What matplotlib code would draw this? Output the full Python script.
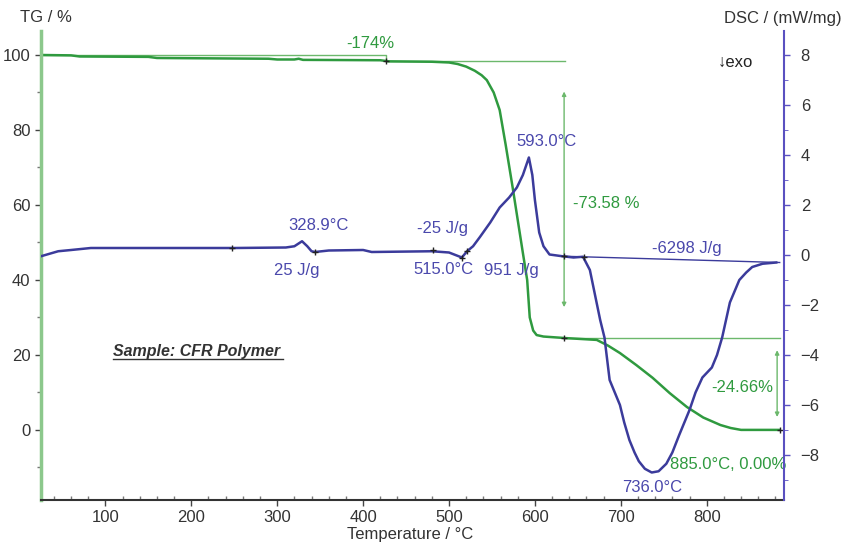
import matplotlib
matplotlib.use("Agg")
import matplotlib.pyplot as plt
from matplotlib.ticker import MultipleLocator

plt.rcParams["font.family"] = ["Liberation Sans", "DejaVu Sans"]

# TG curve (temperature in C, mass in %)
tg_temp = [25, 60, 70, 150, 160, 290, 300, 320, 325, 330, 420, 430, 480, 500,
           510, 520, 530, 538, 544, 552, 559, 566, 574, 580, 586, 591, 594,
           598, 602, 610, 635, 672, 685, 699, 718, 737, 757, 777, 796, 816,
           828, 840, 885]
tg_mass = [100, 99.9, 99.6, 99.5, 99.2, 99.0, 98.8, 98.8, 99.0, 98.7, 98.6,
           98.3, 98.2, 98.0, 97.6, 96.9, 95.8, 94.6, 93.3, 90.0, 85.3, 76.0,
           64.8, 56.0, 47.2, 40.0, 30.0, 26.5, 25.3, 24.9, 24.5, 24.0, 22.5,
           20.5, 17.3, 13.9, 9.8, 6.1, 3.3, 1.3, 0.5, 0.0, 0.0]

# DSC curve (temperature in C, mW/mg)
dsc_temp = [25, 35, 45, 60, 83, 250, 310, 320, 328.9, 335, 340, 344, 360, 400,
            410, 480, 500, 515, 521, 528, 536, 548, 559, 570, 579, 586, 593,
            597, 600, 605, 610, 617, 632, 645, 656, 664, 670, 676, 681, 687,
            693, 699, 704, 710, 716, 721, 728, 736, 744, 753, 760, 768, 774,
            780, 787, 795, 806, 812, 818, 827, 838, 846, 853, 865, 881]
dsc_val = [-0.05, 0.05, 0.15, 0.2, 0.28, 0.28, 0.3, 0.35, 0.55, 0.35, 0.15,
           0.12, 0.18, 0.2, 0.12, 0.15, 0.1, -0.1, 0.15, 0.35, 0.72, 1.3, 1.9,
           2.3, 2.7, 3.2, 3.9, 3.2, 2.2, 0.9, 0.35, 0.02, -0.05, -0.1, -0.07,
           -0.6, -1.6, -2.6, -3.3, -5.0, -5.5, -6.0, -6.7, -7.4, -7.9, -8.25,
           -8.55, -8.7, -8.65, -8.35, -7.9, -7.2, -6.7, -6.2, -5.5, -4.9, -4.5,
           -4.0, -3.3, -1.9, -1.0, -0.7, -0.48, -0.35, -0.3]

# evaluation lines
step_temp = [25, 427, 427, 635]
step_mass = [100, 100, 98.3, 98.3]
tg_marks_t = [427, 634, 885]
tg_marks_v = [98.3, 24.5, 0]
dsc_marks_t = [247, 344, 481, 515, 521, 634, 657]
dsc_marks_v = [0.28, 0.12, 0.2, -0.1, 0.15, -0.05, -0.07]

GREEN = "#2f9a3f"
LGREEN = "#6cb86c"
BLUE = "#3b3b9b"
TBLUE = "#4a48ac"

fig = plt.figure(figsize=(8.43, 5.44), dpi=100)
ax = fig.add_axes([41 / 843, 44 / 544, 743 / 843, 469 / 544])
ax2 = ax.twinx()

ax.set_xlim(25, 890)
ax.set_ylim(-18.7, 106.4)
ax2.set_ylim(-9.8, 8.96)

# TG
ax.plot(step_temp, step_mass, color=LGREEN, lw=1)
ax.plot([634, 885], [24.5, 24.5], color=LGREEN, lw=1)
ax.annotate("", xy=(634, 91), xytext=(634, 32),
            arrowprops=dict(arrowstyle="<|-|>", color=LGREEN, lw=1, mutation_scale=6))
ax.annotate("", xy=(882, 22), xytext=(882, 2.7),
            arrowprops=dict(arrowstyle="<|-|>", color=LGREEN, lw=1, mutation_scale=6))
ax.plot(tg_temp, tg_mass, color=GREEN, lw=1.8)
ax.plot(tg_marks_t, tg_marks_v, "+", color="#222222", ms=4, mew=1)

ax.text(408, 103, "-174%", color=GREEN, fontsize=12, ha="center", va="center")
ax.text(644, 60.5, "-73.58 %", color=GREEN, fontsize=12, ha="left", va="center")
ax.text(878, 11.2, "-24.66%", color=GREEN, fontsize=12, ha="right", va="center")
ax.text(757, -9.3, "885.0°C, 0.00%", color=GREEN, fontsize=12, ha="left", va="center")
ax.text(109, 20.8, "Sample: CFR Polymer", color="#333333", fontsize=11.5,
        fontweight="bold", fontstyle="italic", ha="left", va="center")
ax.plot([109, 307], [18.9, 18.9], color="#333333", lw=1)

# DSC
ax2.plot([634, 885], [-0.05, -0.3], color=BLUE, lw=1)
ax2.plot(dsc_temp, dsc_val, color=BLUE, lw=1.8)
ax2.plot(dsc_marks_t, dsc_marks_v, "+", color="#222222", ms=4, mew=1)

for x, y, s in [(348, 1.2, "328.9°C"), (323, -0.6, "25 J/g"),
                (493, 1.08, "-25 J/g"), (493, -0.6, "515.0°C"),
                (573, -0.6, "951 J/g"), (613, 4.56, "593.0°C"),
                (777, 0.28, "-6298 J/g"), (737, -9.3, "736.0°C")]:
    ax2.text(x, y, s, color=TBLUE, fontsize=12, ha="center", va="center")
ax2.text(833, 7.7, "↓exo", color="#222222", fontsize=12, ha="center", va="center")

# axes styling
for a in (ax, ax2):
    a.spines["top"].set_visible(False)
ax.spines["left"].set_color("#8cc88c")
ax.spines["left"].set_linewidth(2.5)
ax.spines["right"].set_visible(False)
ax2.spines["left"].set_visible(False)
ax2.spines["right"].set_color("#5a50c0")
ax2.spines["right"].set_linewidth(1.5)
ax2.spines["bottom"].set_visible(False)
ax.spines["bottom"].set_color("#333333")
ax.spines["bottom"].set_linewidth(1.5)

ax.xaxis.set_major_locator(MultipleLocator(100))
ax.xaxis.set_minor_locator(MultipleLocator(20))
ax.yaxis.set_major_locator(MultipleLocator(20))
ax.yaxis.set_minor_locator(MultipleLocator(10))
ax2.yaxis.set_major_locator(MultipleLocator(2))
ax2.yaxis.set_minor_locator(MultipleLocator(1))
ax.set_xticks([100, 200, 300, 400, 500, 600, 700, 800])
ax.set_yticks([0, 20, 40, 60, 80, 100])
ax2.set_yticks([-8, -6, -4, -2, 0, 2, 4, 6, 8])

ax.tick_params(axis="both", which="major", labelsize=12, labelcolor="#333333",
               length=4, width=1, color="#444444")
ax.tick_params(axis="both", which="minor", length=3, width=1, color="#777777")
ax.tick_params(axis="x", which="minor", direction="in")
ax2.tick_params(axis="y", which="major", labelsize=12, labelcolor="#333333",
                length=4, width=1, color="#5a50c0", pad=8)
ax2.tick_params(axis="y", which="minor", length=3, color="#5a50c0")

fig.text(20 / 843, 1 - 18 / 544, "TG / %", fontsize=12, color="#333333",
         ha="left", va="center")
fig.text(842 / 843, 1 - 18 / 544, "DSC / (mW/mg)", fontsize=12, color="#333333",
         ha="right", va="center")
fig.text(410 / 843, 1 - 535 / 544, "Temperature / °C", fontsize=12,
         color="#333333", ha="center", va="center")

fig.savefig("out.png", dpi=100)
